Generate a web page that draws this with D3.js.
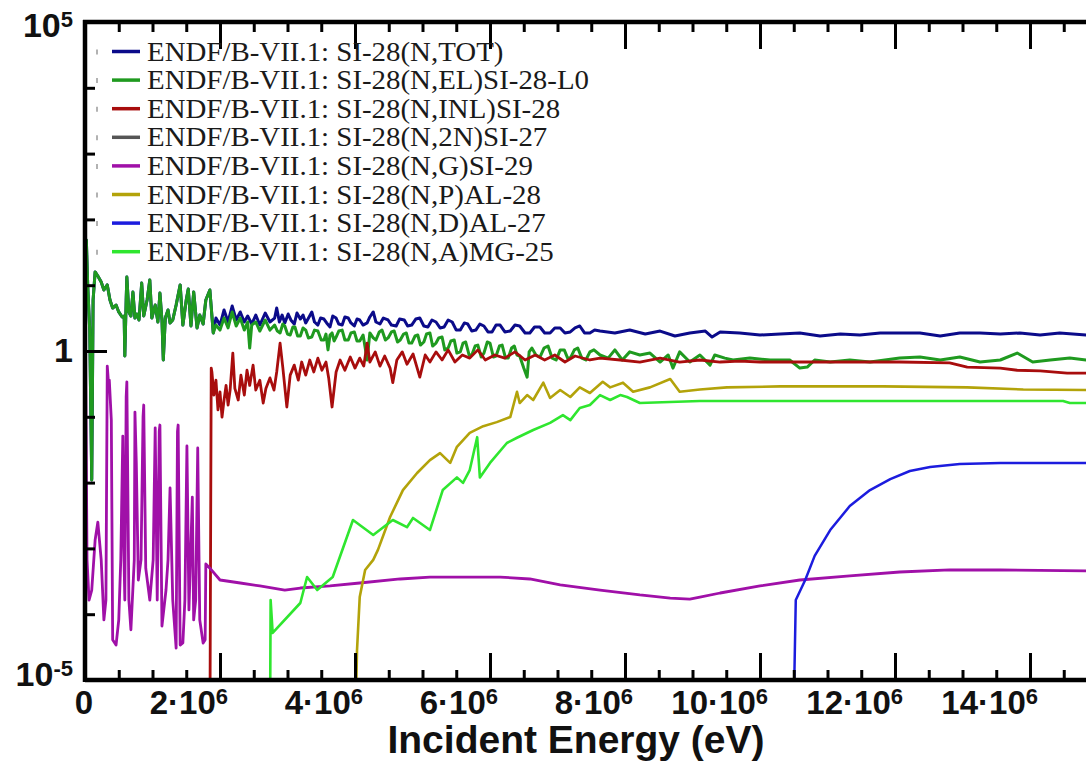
<!DOCTYPE html>
<html><head><meta charset="utf-8">
<script src="https://cdn.jsdelivr.net/npm/d3@7/dist/d3.min.js"></script>
<style>body{margin:0;background:#fff}svg{display:block}</style>
</head><body><svg id="c" width="1086" height="764"></svg>
<script>
// ---------- DATA (energy in MeV, cross section in barns) ----------
const seriesNames = [
  "ENDF/B-VII.1: SI-28(N,TOT)",
  "ENDF/B-VII.1: SI-28(N,EL)SI-28-L0",
  "ENDF/B-VII.1: SI-28(N,INL)SI-28",
  "ENDF/B-VII.1: SI-28(N,2N)SI-27",
  "ENDF/B-VII.1: SI-28(N,G)SI-29",
  "ENDF/B-VII.1: SI-28(N,P)AL-28",
  "ENDF/B-VII.1: SI-28(N,D)AL-27",
  "ENDF/B-VII.1: SI-28(N,A)MG-25"
];
const seriesColors = ["#0b0b8a","#1f9a1f","#a80d0d","#555555","#a010a8","#b3a30a","#1c1cde","#2fe62f"];

const xsTotal = [[0.007,5.96],[0.02,48.6],[0.04,10.1],[0.07,2.08],[0.10,0.011],[0.12,5.96],[0.15,15.9],[0.19,13.8],[0.24,11.2],[0.28,8.45],[0.33,10.1],[0.37,5.96],[0.41,4.50],[0.46,5.00],[0.50,3.92],[0.55,3.29],[0.58,3.40],[0.59,0.84],[0.61,5.96],[0.62,13.3],[0.65,3.92],[0.68,3.40],[0.71,7.88],[0.74,3.17],[0.77,3.65],[0.80,2.96],[0.84,10.8],[0.87,3.40],[0.92,5.96],[0.96,12.0],[0.99,3.17],[1.04,5.00],[1.08,2.76],[1.11,7.60],[1.14,2.96],[1.16,0.73],[1.19,3.17],[1.23,4.20],[1.26,2.67],[1.30,2.96],[1.35,5.00],[1.41,10.1],[1.45,2.48],[1.50,5.96],[1.53,8.75],[1.57,2.40],[1.61,7.88],[1.66,2.24],[1.70,3.52],[1.75,2.57],[1.79,5.96],[1.85,8.45],[1.90,1.88],[1.94,3.17],[2.00,2.48],[2.06,4.20],[2.12,2.76],[2.18,4.83],[2.24,2.96],[2.30,3.92],[2.36,2.76],[2.41,3.40],[2.47,2.57],[2.53,3.52],[2.59,2.48],[2.67,3.78],[2.74,2.76],[2.81,3.17],[2.84,4.50],[2.88,2.76],[2.92,3.52],[2.96,2.67],[3.01,3.65],[3.05,2.96],[3.10,2.57],[3.14,3.78],[3.19,3.06],[3.23,3.52],[3.27,2.67],[3.32,3.29],[3.36,3.92],[3.40,2.76],[3.45,2.48],[3.49,3.17],[3.54,3.06],[3.58,2.67],[3.63,2.32],[3.67,3.40],[3.72,3.17],[3.76,2.57],[3.81,2.48],[3.85,3.29],[3.90,3.17],[3.94,2.67],[3.99,2.40],[4.03,3.06],[4.07,2.96],[4.12,2.48],[4.18,2.67],[4.22,3.29],[4.27,3.92],[4.31,2.76],[4.37,2.57],[4.42,3.17],[4.49,2.96],[4.54,2.48],[4.61,2.40],[4.66,3.06],[4.73,2.96],[4.78,2.40],[4.84,2.48],[4.90,3.06],[4.96,3.17],[5.02,2.40],[5.08,2.32],[5.14,2.96],[5.20,2.76],[5.26,2.24],[5.32,2.32],[5.38,2.96],[5.44,2.76],[5.50,2.08],[5.56,2.08],[5.62,2.67],[5.67,2.57],[5.73,2.01],[5.79,2.08],[5.85,2.57],[5.91,2.40],[5.97,1.95],[6.03,1.95],[6.09,2.48],[6.15,2.48],[6.22,1.95],[6.30,2.01],[6.37,2.48],[6.44,2.40],[6.52,1.88],[6.59,1.88],[6.66,2.32],[6.74,2.32],[6.81,1.88],[6.89,1.88],[6.96,2.24],[7.04,2.24],[7.11,1.88],[7.19,1.95],[7.26,2.24],[7.33,2.40],[7.40,1.88],[7.48,1.88],[7.55,2.08],[7.63,2.01],[7.85,1.88],[8.07,2.08],[8.30,1.81],[8.52,2.01],[8.74,1.69],[8.96,1.88],[9.19,2.01],[9.29,1.63],[9.41,1.95],[9.70,1.88],[10.0,1.75],[10.30,1.81],[10.59,1.88],[10.89,1.69],[11.19,1.81],[11.48,1.75],[11.78,1.88],[12.07,1.88],[12.37,1.88],[12.67,1.69],[12.96,1.88],[13.26,1.88],[13.56,1.81],[13.85,1.88],[14.15,1.75],[14.44,1.88],[14.83,1.75],[15.5,1.75]];

const xsElastic = [[0.007,5.96],[0.02,48.6],[0.04,10.1],[0.07,2.08],[0.10,0.011],[0.12,5.96],[0.15,15.9],[0.19,13.8],[0.24,11.2],[0.28,8.45],[0.33,10.1],[0.37,5.96],[0.41,4.50],[0.46,5.00],[0.50,3.92],[0.55,3.29],[0.58,3.40],[0.59,0.84],[0.61,5.96],[0.62,13.3],[0.65,3.92],[0.68,3.40],[0.71,7.88],[0.74,3.17],[0.77,3.65],[0.80,2.96],[0.84,10.8],[0.87,3.40],[0.92,5.96],[0.96,12.0],[0.99,3.17],[1.04,5.00],[1.08,2.76],[1.11,7.60],[1.14,2.96],[1.16,0.73],[1.19,3.17],[1.23,4.20],[1.26,2.67],[1.30,2.96],[1.35,5.00],[1.41,10.1],[1.45,2.48],[1.50,5.96],[1.53,8.75],[1.57,2.40],[1.61,7.88],[1.66,2.24],[1.70,3.52],[1.75,2.57],[1.79,5.96],[1.85,8.45],[1.90,1.88],[1.94,2.48],[2.00,2.08],[2.06,3.17],[2.12,2.24],[2.18,3.92],[2.24,2.40],[2.30,3.17],[2.36,2.08],[2.41,2.76],[2.44,1.11],[2.47,2.48],[2.53,2.76],[2.59,2.01],[2.67,2.96],[2.74,2.08],[2.81,2.48],[2.85,2.01],[2.89,1.88],[2.93,2.57],[2.96,2.40],[3.00,1.81],[3.04,1.75],[3.08,2.32],[3.11,2.32],[3.15,1.69],[3.19,1.69],[3.23,2.24],[3.27,2.08],[3.31,1.58],[3.36,1.63],[3.40,2.08],[3.45,2.01],[3.50,1.47],[3.54,1.47],[3.57,1.81],[3.60,1.04],[3.63,1.75],[3.66,1.88],[3.69,1.42],[3.72,1.63],[3.76,2.01],[3.81,2.08],[3.85,1.47],[3.90,1.47],[3.94,1.88],[3.99,1.95],[4.03,1.42],[4.07,1.42],[4.12,1.75],[4.18,0.73],[4.22,1.88],[4.27,1.58],[4.31,1.47],[4.36,1.95],[4.40,2.08],[4.45,1.47],[4.49,1.58],[4.54,1.95],[4.58,2.01],[4.63,1.37],[4.67,1.47],[4.72,1.81],[4.76,1.88],[4.80,1.32],[4.84,1.32],[4.89,1.69],[4.93,1.75],[4.97,1.23],[5.02,1.37],[5.06,1.81],[5.11,1.88],[5.15,1.19],[5.20,1.32],[5.24,1.58],[5.29,1.63],[5.33,1.04],[5.38,1.11],[5.42,1.42],[5.47,1.47],[5.51,0.93],[5.56,0.97],[5.60,1.32],[5.64,1.37],[5.69,0.87],[5.73,0.87],[5.78,1.19],[5.82,1.23],[5.87,0.81],[5.91,0.93],[5.96,1.37],[6.00,1.32],[6.05,0.81],[6.09,0.84],[6.14,1.19],[6.18,1.23],[6.23,0.78],[6.27,0.78],[6.32,1.11],[6.36,1.19],[6.40,0.87],[6.44,0.84],[6.50,0.55],[6.55,0.40],[6.58,0.97],[6.62,1.11],[6.68,0.87],[6.74,0.81],[6.80,1.11],[6.86,1.19],[6.92,0.78],[6.98,0.73],[7.04,1.04],[7.10,1.04],[7.15,0.78],[7.19,0.78],[7.25,1.04],[7.30,1.11],[7.36,0.78],[7.42,0.73],[7.48,0.97],[7.54,1.04],[7.63,0.87],[7.75,0.78],[7.85,1.04],[7.96,0.73],[8.07,0.97],[8.22,0.87],[8.37,0.93],[8.52,0.68],[8.64,0.87],[8.71,0.55],[8.81,0.97],[8.96,0.68],[9.11,0.87],[9.26,0.61],[9.33,0.87],[9.48,0.78],[9.60,0.73],[9.85,0.78],[10.15,0.73],[10.44,0.73],[10.59,0.55],[10.70,0.57],[10.81,0.73],[11.04,0.68],[11.33,0.73],[11.63,0.68],[12.07,0.78],[12.37,0.81],[12.67,0.73],[12.96,0.81],[13.26,0.68],[13.56,0.73],[13.81,0.93],[14.04,0.68],[14.30,0.73],[14.59,0.78],[14.83,0.73],[15.5,0.73]];

const xsInelastic = [[1.85,1e-6],[1.87,0.55],[1.88,0.48],[1.91,0.214],[1.94,0.36],[1.97,0.127],[2.00,0.24],[2.03,0.099],[2.06,0.18],[2.09,0.30],[2.12,0.151],[2.15,0.255],[2.19,0.93],[2.22,0.27],[2.27,0.18],[2.31,0.43],[2.36,0.214],[2.40,0.51],[2.44,0.30],[2.49,0.61],[2.53,0.255],[2.59,0.36],[2.64,0.162],[2.68,0.27],[2.74,0.39],[2.80,0.255],[2.84,0.48],[2.89,1.32],[2.93,0.57],[2.99,0.141],[3.04,0.43],[3.10,0.61],[3.16,0.36],[3.21,0.68],[3.27,0.43],[3.33,0.73],[3.39,0.48],[3.45,0.78],[3.51,0.51],[3.57,0.68],[3.61,0.39],[3.66,0.141],[3.72,0.48],[3.78,0.73],[3.85,0.51],[3.93,0.81],[4.00,0.55],[4.07,0.78],[4.13,0.59],[4.18,1.32],[4.22,0.68],[4.30,0.97],[4.37,0.59],[4.44,0.84],[4.52,0.55],[4.56,0.33],[4.62,0.73],[4.70,0.97],[4.77,0.63],[4.86,0.90],[4.96,0.40],[5.04,0.87],[5.11,0.68],[5.20,0.97],[5.29,0.73],[5.38,1.04],[5.48,0.68],[5.59,0.87],[5.70,0.78],[5.82,1.04],[5.93,0.73],[6.07,0.87],[6.22,0.78],[6.37,0.97],[6.52,0.73],[6.67,0.87],[6.81,0.73],[6.96,0.87],[7.11,0.68],[7.26,0.84],[7.48,0.73],[7.63,0.78],[7.93,0.73],[8.22,0.68],[8.52,0.78],[8.81,0.68],[9.11,0.73],[9.41,0.68],[9.70,0.70],[10.0,0.68],[10.59,0.68],[11.33,0.68],[12.07,0.68],[12.81,0.66],[13.07,0.57],[13.56,0.55],[13.81,0.51],[14.15,0.50],[14.55,0.46],[14.83,0.46],[15.5,0.45]];

const xsN2N = []; // threshold lies beyond the visible energy range

const xsCapture = [[0.007,1.5],[0.03,6.7e-4],[0.06,1.64e-4],[0.10,2.33e-4],[0.15,1.34e-3],[0.19,2.5e-3],[0.24,6.7e-4],[0.28,8.2e-5],[0.31,1.64e-4],[0.33,0.59],[0.345,0.36],[0.36,0.36],[0.39,0.089],[0.41,4.1e-5],[0.46,3.4e-5],[0.50,8.2e-5],[0.53,6.7e-4],[0.56,0.051],[0.575,1.0e-3],[0.59,1.64e-4],[0.61,0.2],[0.62,0.34],[0.65,1.64e-4],[0.68,5.8e-5],[0.73,6.7e-4],[0.74,0.118],[0.76,0.02],[0.79,3.3e-4],[0.83,6.7e-4],[0.86,0.1],[0.87,0.151],[0.90,5.0e-4],[0.96,1.64e-4],[1.01,6.7e-4],[1.04,0.068],[1.07,1.64e-4],[1.10,0.06],[1.11,0.075],[1.14,6.6e-5],[1.20,2.33e-4],[1.23,6.7e-4],[1.26,0.0083],[1.30,1.64e-4],[1.35,3.06e-5],[1.37,0.06],[1.38,0.075],[1.41,3.4e-5],[1.45,3.65e-5],[1.48,1.64e-4],[1.51,0.036],[1.54,1.16e-4],[1.59,0.006],[1.61,8.2e-5],[1.64,1.64e-4],[1.67,0.0336],[1.70,8.2e-5],[1.75,3.65e-5],[1.78,4.1e-5],[1.79,5.8e-4],[1.85,5.0e-4],[2.00,3.31e-4],[2.30,2.98e-4],[2.59,2.69e-4],[2.96,2.33e-4],[3.19,2.5e-4],[3.63,2.69e-4],[4.07,2.98e-4],[4.67,3.43e-4],[5.11,3.67e-4],[5.70,3.67e-4],[6.15,3.67e-4],[6.59,3.43e-4],[7.04,2.78e-4],[7.63,2.33e-4],[8.22,1.96e-4],[8.67,1.76e-4],[8.96,1.70e-4],[9.11,1.82e-4],[9.41,2.10e-4],[10.0,2.69e-4],[10.59,3.31e-4],[11.33,3.81e-4],[12.07,4.38e-4],[12.81,4.7e-4],[13.56,4.7e-4],[14.83,4.54e-4],[15.5,4.5e-4]];

const xsNP = [[4.0,1e-6],[4.03,2.86e-5],[4.07,1.82e-4],[4.15,4.7e-4],[4.27,6.7e-4],[4.34,9.5e-4],[4.52,3.0e-3],[4.71,7.7e-3],[4.92,0.014],[5.11,0.022],[5.26,0.028],[5.41,0.0199],[5.51,0.035],[5.70,0.057],[5.90,0.072],[6.10,0.083],[6.30,0.099],[6.40,0.24],[6.44,0.162],[6.55,0.214],[6.64,0.18],[6.79,0.33],[6.89,0.193],[7.04,0.255],[7.19,0.20],[7.33,0.28],[7.48,0.23],[7.67,0.34],[7.78,0.28],[7.97,0.33],[8.12,0.24],[8.37,0.28],[8.67,0.375],[8.81,0.24],[9.11,0.26],[9.51,0.28],[10.30,0.29],[11.82,0.29],[13.07,0.28],[13.90,0.26],[14.83,0.255],[15.5,0.255]];

const xsND = [[10.49,1e-6],[10.53,1.64e-4],[10.67,3.31e-4],[10.81,7.7e-4],[11.04,1.9e-3],[11.33,4.4e-3],[11.63,7.7e-3],[11.93,0.0113],[12.22,0.015],[12.52,0.0173],[12.96,0.0192],[13.56,0.0199],[14.83,0.0199],[15.5,0.0199]];

const xsNA = [[2.74,1e-6],[2.75,1.64e-4],[2.78,5.2e-5],[3.19,1.48e-4],[3.29,3.67e-4],[3.44,2.33e-4],[3.67,3.67e-4],[3.97,2.7e-3],[4.27,1.6e-3],[4.56,2.7e-3],[4.77,2.1e-3],[4.86,2.9e-3],[5.11,1.9e-3],[5.30,7.7e-3],[5.51,0.012],[5.60,9.9e-3],[5.70,0.0155],[5.81,0.049],[5.85,0.012],[6.00,0.0199],[6.25,0.040],[6.40,0.048],[6.64,0.063],[6.89,0.081],[7.08,0.106],[7.19,0.089],[7.33,0.136],[7.48,0.151],[7.63,0.214],[7.78,0.18],[7.93,0.214],[8.03,0.20],[8.22,0.162],[9.11,0.174],[10.59,0.174],[14.49,0.174],[14.59,0.162],[14.83,0.162],[15.5,0.162]];

const allSeries = [xsTotal, xsElastic, xsInelastic, xsN2N, xsCapture, xsNP, xsND, xsNA];

const xLabelTicks = [0,2,4,6,8,10,12,14];                      // MeV (labelled)
const xMajorTicks = [0,2,4,6,8,10,12,14,16];                   // MeV
const xMinorTicks = d3.range(0, 16.01, 0.5);                   // MeV
const yMajorTicks = [1e5, 1, 1e-5];
const yMinorTicks = [1e5,1e4,1e3,1e2,1e1,1,1e-1,1e-2,1e-3,1e-4,1e-5];
const yTickLabels = [["10","5"],["1",""],["10","-5"]];
const xTitle = "Incident Energy (eV)";

// ---------- CHART ----------
const svg = d3.select("#c");
const L = 85, T = 22, B = 680;
const x = d3.scaleLinear().domain([0, 20e6]).range([L, L + 20*67.5]);
const y = d3.scaleLog().domain([1e-5, 1e5]).range([B, T]);

svg.append("defs").append("clipPath").attr("id","clip")
  .append("rect").attr("x", L).attr("y", T).attr("width", 1200).attr("height", B - T);

const line = d3.line().x(d => x(d[0]*1e6)).y(d => y(d[1]));
const widths = [3, 3, 2.8, 2.5, 2.8, 2.6, 2.5, 2.6];
const gCurves = svg.append("g").attr("clip-path","url(#clip)");
allSeries.forEach((s, i) => {
  if (!s.length) return;
  gCurves.append("path").datum(s).attr("d", line)
    .attr("fill","none").attr("stroke", seriesColors[i])
    .attr("stroke-width", widths[i]).attr("stroke-linejoin","round");
});

// axes (ticks pointing inward)
function tickAxis(gen, tr, vals, size){
  const g = svg.append("g").attr("transform", tr)
    .call(gen.tickValues(vals).tickSize(size).tickSizeOuter(0).tickFormat(""));
  g.select(".domain").remove();
  g.selectAll(".tick line").attr("stroke","#000").attr("stroke-width",3);
}
const xs = d3.scaleLinear().domain([0,20]).range(x.range());
tickAxis(d3.axisBottom(xs), `translate(0,${B})`, xMinorTicks, -10);
tickAxis(d3.axisBottom(xs), `translate(0,${B})`, xMajorTicks, -27);
tickAxis(d3.axisTop(xs), `translate(0,${T})`, xMinorTicks, -10);
tickAxis(d3.axisTop(xs), `translate(0,${T})`, xMajorTicks, -27);
tickAxis(d3.axisLeft(y), `translate(${L},0)`, yMinorTicks, -10);
tickAxis(d3.axisLeft(y), `translate(${L},0)`, yMajorTicks, -22);

// frame
svg.append("line").attr("x1",L).attr("x2",1086).attr("y1",B).attr("y2",B).attr("stroke","#000").attr("stroke-width",4.5);
svg.append("line").attr("x1",L-2).attr("x2",1086).attr("y1",T).attr("y2",T).attr("stroke","#000").attr("stroke-width",4.5);
svg.append("line").attr("x1",L).attr("x2",L).attr("y1",T-2).attr("y2",B+2).attr("stroke","#000").attr("stroke-width",4.5);

const sans = "'Liberation Sans', Arial, sans-serif";
// x tick labels
xLabelTicks.forEach(v => {
  const t = svg.append("text").attr("x", xs(v) + 8).attr("y", 714)
    .attr("text-anchor","end").attr("font-family",sans).attr("font-weight","bold")
    .attr("font-size",33).attr("fill","#111");
  if (v === 0) { t.text("0"); return; }
  t.append("tspan").text(v + "\u00B710");
  t.append("tspan").attr("dy",-10).attr("font-size",22).text("6");
});
// y tick labels
const yBase = [37, 362, 686];
yMajorTicks.forEach((v, i) => {
  const t = svg.append("text").attr("x", 73).attr("y", yBase[i])
    .attr("text-anchor","end").attr("font-family",sans).attr("font-weight","bold")
    .attr("font-size",34).attr("fill","#111");
  t.append("tspan").text(yTickLabels[i][0]);
  if (yTickLabels[i][1]) t.append("tspan").attr("dy",-10).attr("font-size",22).text(yTickLabels[i][1]);
});
// x title
svg.append("text").attr("x", 576).attr("y", 753).attr("text-anchor","middle")
  .attr("font-family",sans).attr("font-weight","bold").attr("font-size",39).attr("fill","#111")
  .text(xTitle);

// legend
const lg = svg.append("g");
seriesNames.forEach((n, i) => {
  const cy = 51.5 + i*28.6;
  lg.append("line").attr("x1",97).attr("x2",97).attr("y1",cy-2).attr("y2",cy+3).attr("stroke","#999").attr("stroke-width",1.5);
  lg.append("line").attr("x1",112).attr("x2",140).attr("y1",cy).attr("y2",cy)
    .attr("stroke",seriesColors[i]).attr("stroke-width",3.5);
  lg.append("text").attr("transform",`translate(147,${cy+9}) scale(1.07,1)`)
    .attr("font-family","'Liberation Serif','Times New Roman',serif").attr("font-size",27).attr("fill","#1a1a1a")
    .text(n);
});
</script></body></html>
